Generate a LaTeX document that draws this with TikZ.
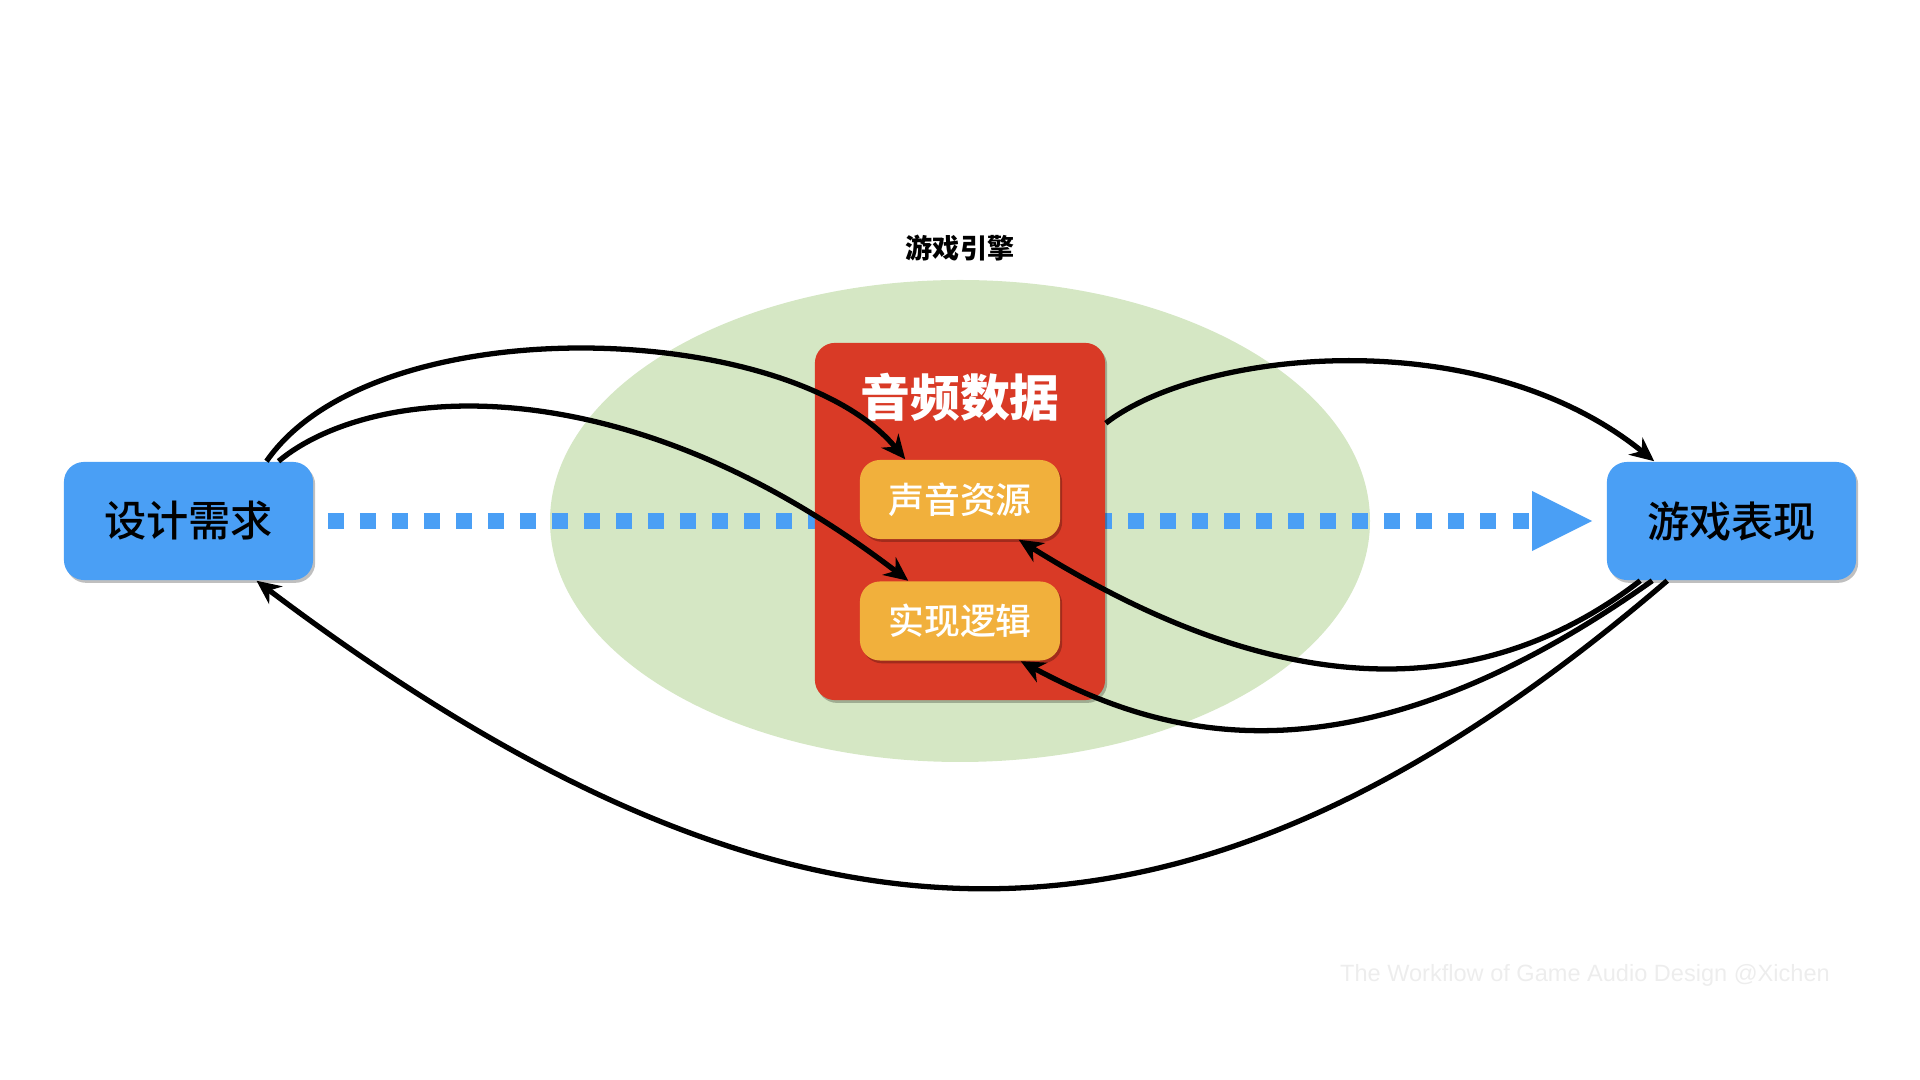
\documentclass[tikz,border=0pt]{standalone}
\usepackage{fontspec}
\usepackage{tikz}
\usepackage{xcolor}
\usetikzlibrary{arrows.meta, calc, shadows}
\setmainfont{Noto Sans CJK SC}
\newfontfamily\cjkmed{Noto Sans CJK SC Medium}
\newfontfamily\wmfont{Liberation Sans}
\definecolor{boxblue}{HTML}{4A9FF5}
\definecolor{datared}{HTML}{D93A26}
\definecolor{partorange}{HTML}{F1B03C}
\definecolor{enginegreen}{HTML}{D5E7C4}
\definecolor{wmgray}{HTML}{EDEDED}

\begin{document}
\begin{tikzpicture}[x=0.01cm, y=-0.01cm,
    softshadow/.style={drop shadow={shadow xshift=0.6pt, shadow yshift=-0.8pt, opacity=0.25, fill=black}},
    endbox/.style={fill=boxblue, rounded corners=0.2cm, minimum width=2.49cm, minimum height=1.18cm, inner sep=0pt, softshadow, font=\cjkmed\fontsize{12}{14}\selectfont},
    partbox/.style={fill=partorange, rounded corners=0.2cm, minimum width=2.0cm, minimum height=0.79cm, inner sep=0pt, softshadow, text=white, font=\cjkmed\fontsize{10.2}{12}\selectfont},
    link/.style={line width=1.5pt, -{Stealth[length=0.24cm, width=0.22cm]}},
    flow/.style={boxblue, line width=0.16cm, dash pattern=on 0.16cm off 0.16cm, -{Triangle[length=0.6cm, width=0.6cm, line width=0pt]}}]
    \useasboundingbox (0,0) rectangle (1920,1080);

    % Game engine area
    \fill[enginegreen] (960,521) ellipse (410 and 241);
    \node[font=\fontsize{7.7}{9}\selectfont\bfseries] (engine) at (960,248) {游戏引擎};

    % Both ends
    \node[endbox] (req) at (188.5,521) {设计需求};
    \node[endbox] (perf) at (1731.5,521) {游戏表现};

    % Main flow (runs under the data block)
    \draw[flow, shorten <=0.14cm, shorten >=0.14cm] (req.east) -- (perf.west);

    % Audio data block
    \node[fill=datared, rounded corners=0.2cm, minimum width=2.9cm, minimum height=3.57cm, softshadow] (data) at (960,521.5) {};
    \node[text=white, font=\fontsize{14.2}{16}\selectfont\bfseries] (datatitle) at (960,397) {音频数据};
    \node[partbox] (res) at (960,499.5) {声音资源};
    \node[partbox] (logic) at (960,621) {实现逻辑};

    % Links into the engine
    \draw[link] ($(req.north)+(78,0)$) .. controls (375,305) and (790,320) .. ($(res.north west)+(46,0)$);
    \draw[link] ($(req.north)+(90,0)$) .. controls (370,385) and (620,360) .. ($(logic.north west)+(49,0)$);
    \draw[link] ($(data.north east)+(0,81)$) .. controls (1200,350) and (1480,320) .. ($(perf.north west)+(48,0)$);

    % Feedback
    \draw[link] ($(perf.south west)+(34,0)$) .. controls (1420,750) and (1180,640) .. ($(res.south east)+(-42,0)$);
    \draw[link] ($(perf.south west)+(46,0)$) .. controls (1340,802) and (1150,730) .. ($(logic.south east)+(-40,0)$);
    \draw[link] ($(perf.south west)+(61,0)$) .. controls (1189,990) and (800,990) .. ($(req.south)+(68,0)$);

    % Watermark
    \node[wmgray, font=\wmfont\fontsize{6.7}{8}\selectfont] (credit) at (1585,975) {The Workflow of Game Audio Design @Xichen};
\end{tikzpicture}
\end{document}
